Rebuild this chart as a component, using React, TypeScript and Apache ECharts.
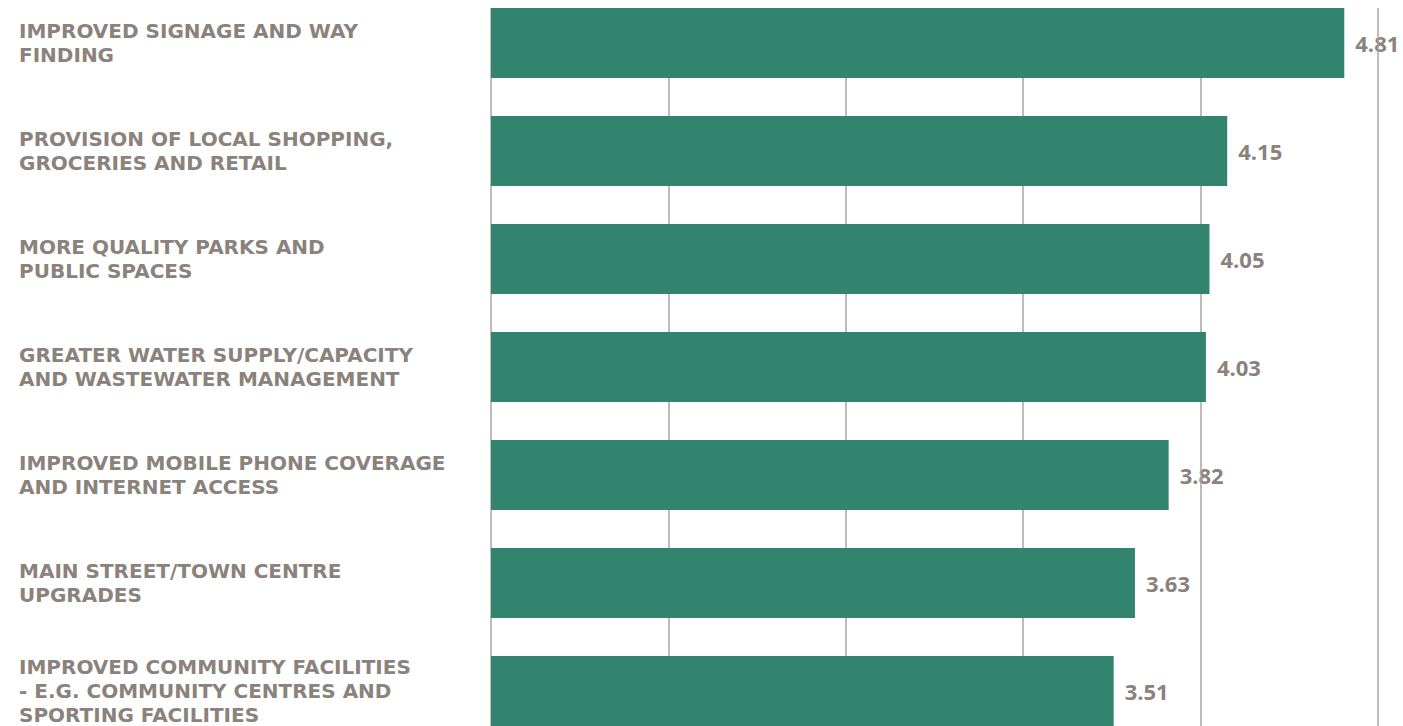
import React, { useEffect, useRef } from "react";
import * as echarts from "echarts";

const categories: string[] = [
  "IMPROVED SIGNAGE AND WAY\nFINDING",
  "PROVISION OF LOCAL SHOPPING,\nGROCERIES AND RETAIL",
  "MORE QUALITY PARKS AND\nPUBLIC SPACES",
  "GREATER WATER SUPPLY/CAPACITY\nAND WASTEWATER MANAGEMENT",
  "IMPROVED MOBILE PHONE COVERAGE\nAND INTERNET ACCESS",
  "MAIN STREET/TOWN CENTRE\nUPGRADES",
  "IMPROVED COMMUNITY FACILITIES\n- E.G. COMMUNITY CENTRES AND\nSPORTING FACILITIES",
];
const values: number[] = [4.81, 4.15, 4.05, 4.03, 3.82, 3.63, 3.51];

const BAR = "#33846F";
const TEXT = "#8A827B";
const GRID = "#ABA49E";
const CAT_FONT = "'DejaVu Sans', sans-serif";
const VAL_FONT = "'Open Sans', sans-serif";

export default function App() {
  const ref = useRef<HTMLDivElement>(null);
  useEffect(() => {
    if (!ref.current) return;
    const chart = echarts.init(ref.current, undefined, { renderer: "svg" });
    chart.setOption({
      animation: false,
      backgroundColor: "#ffffff",
      grid: { left: 491, right: 25, top: 0, height: 756, containLabel: false },
      xAxis: {
        type: "value",
        min: 0,
        max: 5,
        interval: 1,
        z: 1,
        axisLine: { show: false },
        axisTick: { show: false },
        axisLabel: { show: false },
        splitLine: { show: true, lineStyle: { color: GRID, width: 1.5 } },
      },
      yAxis: {
        type: "category",
        data: categories,
        inverse: true,
        axisLine: { show: false },
        axisTick: { show: false },
        axisLabel: {
          align: "left",
          margin: 472,
          color: TEXT,
          fontFamily: CAT_FONT,
          fontWeight: "bold",
          fontSize: 20,
          lineHeight: 24,
          padding: [5, 0, 0, 0],
        },
      },
      series: [
        {
          type: "bar",
          data: values,
          z: 0,
          barWidth: 70,
          itemStyle: { color: "rgba(0,0,0,0)" },
          label: {
            show: true,
            position: "right",
            distance: 11,
            color: TEXT,
            fontFamily: VAL_FONT,
            fontWeight: "bold",
            fontSize: 22,
            formatter: (p: any) => p.value.toFixed(2),
          },
          silent: true,
        },
        {
          type: "bar",
          data: values,
          z: 3,
          barWidth: 70,
          barGap: "-100%",
          itemStyle: { color: BAR },
        },
      ],
      graphic: [
        {
          type: "rect",
          shape: { x: 480, y: 0, width: 923, height: 19 },
          style: { fill: "#ffffff" },
          z: 100,
        },
      ],
    });
    return () => chart.dispose();
  }, []);
  return (
    <div
      ref={ref}
      style={{ position: "fixed", left: 0, top: -11, width: 1403, height: 756 }}
    />
  );
}
